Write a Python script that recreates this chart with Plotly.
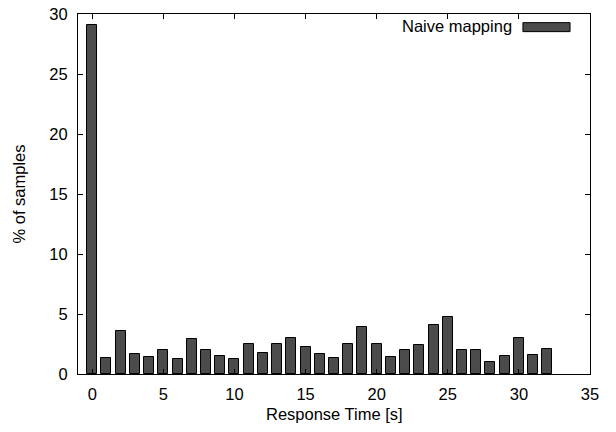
import plotly.graph_objects as go

response_time = list(range(33))
pct_samples = [29.08, 1.32, 3.6, 1.68, 1.4, 2.0, 1.27, 2.88, 2.0, 1.5, 1.23, 2.5, 1.77, 2.5,
               3.04, 2.27, 1.65, 1.36, 2.46, 3.93, 2.48, 1.43, 1.96, 2.4, 4.1, 4.79, 2.0, 2.0,
               1.0, 1.54, 3.0, 1.62, 2.1]
series_name = "Naive mapping"
x_title = "Response Time [s]"
y_title = "% of samples"
x_ticks = [0, 5, 10, 15, 20, 25, 30, 35]
y_ticks = [0, 5, 10, 15, 20, 25, 30]

FONT = "Liberation Sans, Arial, Helvetica, sans-serif"
FILL = "#4b4b4b"

fig = go.Figure()
fig.add_trace(go.Bar(
    x=response_time, y=pct_samples, width=0.7, name=series_name,
    marker=dict(color=FILL, line=dict(color="black", width=1)),
    showlegend=False,
))

axis_common = dict(
    showgrid=False, zeroline=False, showline=True, linecolor="black", linewidth=1,
    mirror="ticks", ticks="inside", ticklen=5, tickcolor="black", tickwidth=1,
    tickfont=dict(family=FONT, size=16.5, color="black"), automargin=False,
)

fig.update_xaxes(range=[-1, 35], tickvals=x_ticks, ticklabelstandoff=5, **axis_common)
fig.update_yaxes(range=[0, 30], tickvals=y_ticks, ticklabelstandoff=6,
                 title=dict(text=y_title, font=dict(family=FONT, size=16.5, color="black"), standoff=19),
                 **axis_common)

# x-axis title placed like gnuplot's
fig.add_annotation(x=0.5, y=0, xref="paper", yref="paper", xanchor="center", yanchor="middle",
                   yshift=-40, text=x_title, showarrow=False,
                   font=dict(family=FONT, size=16.5, color="black"))

# gnuplot-style key: text right-aligned, sample to the right
fig.add_annotation(x=0.852, y=0.966, xref="paper", yref="paper", xanchor="right", yanchor="middle",
                   text=series_name, showarrow=False,
                   font=dict(family=FONT, size=16.5, color="black"))
fig.add_shape(type="rect", xref="paper", yref="paper", x0=0.869, x1=0.961, y0=0.951, y1=0.976,
              fillcolor=FILL, line=dict(color="black", width=1))

fig.update_layout(
    width=616, height=432,
    margin=dict(l=78, r=26, t=14, b=58),
    plot_bgcolor="white", paper_bgcolor="white",
    bargap=0,
    font=dict(family=FONT, size=16.5, color="black"),
)

fig.write_html("out.html", config={"displayModeBar": False},
               post_script="document.body.style.margin='0';")
